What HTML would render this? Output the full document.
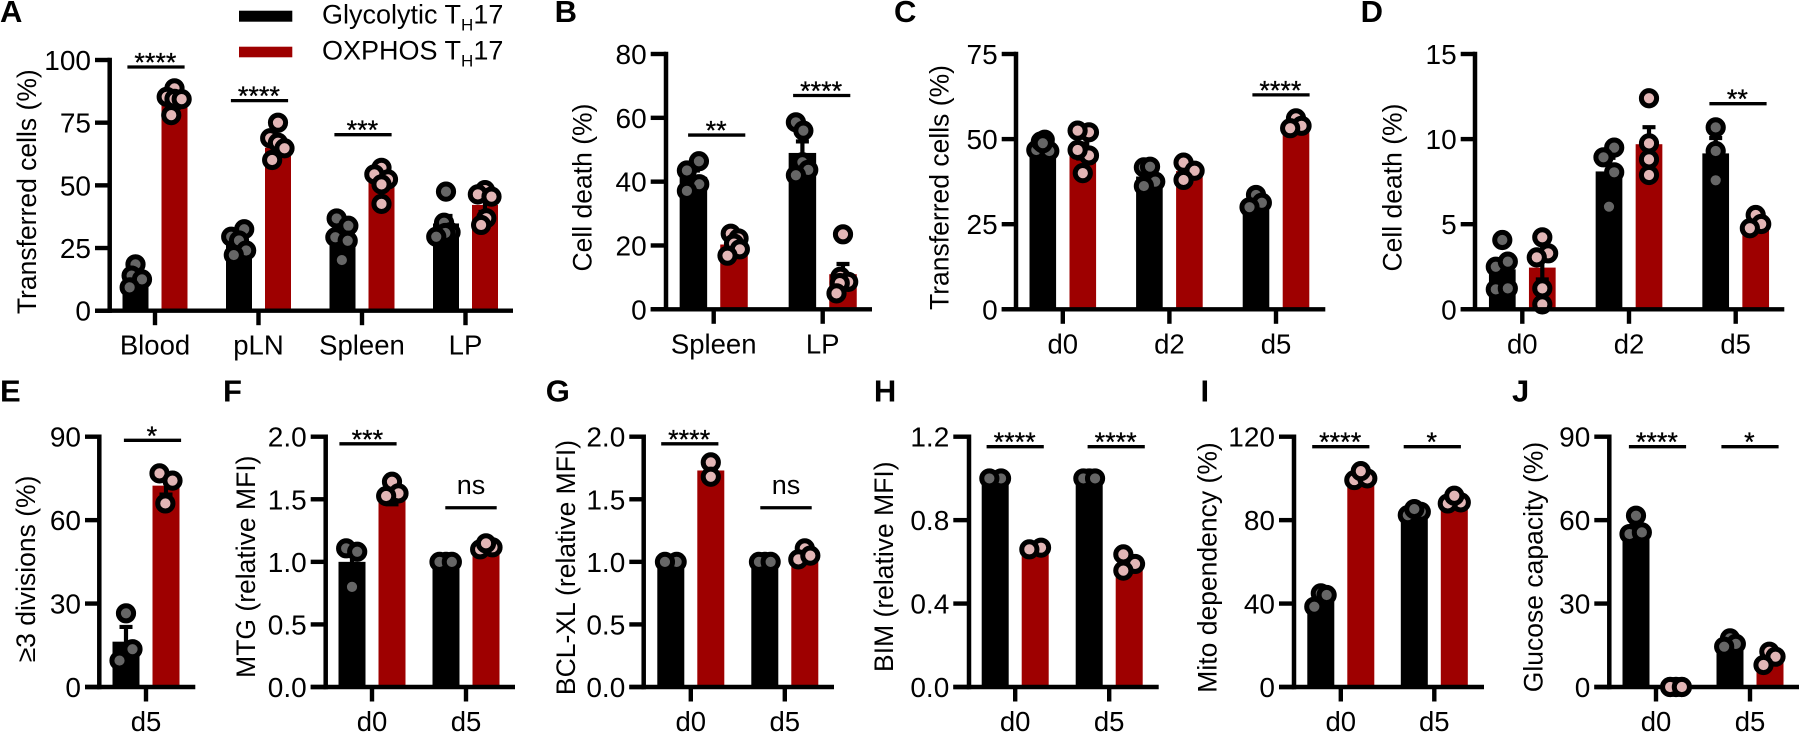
<!DOCTYPE html>
<html lang="en">
<head>
<meta charset="utf-8">
<title>Glycolytic vs OXPHOS TH17 bar charts</title>
<style>
html,body{margin:0;padding:0;background:#fff;width:1800px;height:732px;overflow:hidden}
svg{display:block}
text{font-family:"Liberation Sans",Arial,sans-serif;fill:#000}
.lab{font-size:27px}
.ytk{font-size:28px}
.xtk{font-size:27.5px}
.star{font-size:27px;stroke:#000;stroke-width:.3}
.ttl{font-size:26.5px}
.let{font-size:31px;font-weight:bold}
</style>
</head>
<body>
<svg id="figure" width="1800" height="732" viewBox="0 0 1800 732" xmlns="http://www.w3.org/2000/svg">
  <g>
    <rect x="239" y="10.7" width="53.3" height="11" fill="#000"/>
    <rect x="239" y="46.7" width="53.3" height="10.6" fill="#9e0000"/>
    <text class="lab" x="322" y="23.3">Glycolytic T<tspan font-size="17" dy="7">H</tspan><tspan dy="-7">17</tspan></text>
    <text class="lab" x="322" y="59.3">OXPHOS T<tspan font-size="17" dy="7">H</tspan><tspan dy="-7">17</tspan></text>
  </g>
  <g>
    <text class="let" x="0" y="22">A</text>
    <text class="let" x="554.6" y="22">B</text>
    <text class="let" x="894" y="22">C</text>
    <text class="let" x="1360.6" y="22">D</text>
    <text class="let" x="0" y="401.5">E</text>
    <text class="let" x="223" y="401.5">F</text>
    <text class="let" x="545.7" y="401.5">G</text>
    <text class="let" x="873.9" y="401.5">H</text>
    <text class="let" x="1200.5" y="401.5">I</text>
    <text class="let" x="1512" y="401.5">J</text>
  </g>
  <g text-anchor="middle">
    <text class="ttl" transform="translate(36 191.7) rotate(-90)">Transferred cells (%)</text>
    <text class="ttl" transform="translate(591.7 187.5) rotate(-90)">Cell death (%)</text>
    <text class="ttl" transform="translate(948.3 187.5) rotate(-90)">Transferred cells (%)</text>
    <text class="ttl" transform="translate(1401.7 187.5) rotate(-90)">Cell death (%)</text>
    <text class="ttl" transform="translate(35 569) rotate(-90)">≥3 divisions (%)</text>
    <text class="ttl" transform="translate(255 566.7) rotate(-90)">MTG (relative MFI)</text>
    <text class="ttl" transform="translate(575 567.5) rotate(-90)">BCL-XL (relative MFI)</text>
    <text class="ttl" transform="translate(893 566.7) rotate(-90)">BIM (relative MFI)</text>
    <text class="ttl" transform="translate(1216.7 567.5) rotate(-90)">Mito dependency (%)</text>
    <text class="ttl" transform="translate(1542.7 567) rotate(-90)">Glucose capacity (%)</text>
  </g>
</svg>
<script>
// ---------- Panel A ----------
const aCategories = ['Blood', 'pLN', 'Spleen', 'LP'];
const aTickLabels = ['0', '25', '50', '75', '100'];
const aGlyMeans = [13, 27, 30, 34.8];
const aGlySem = [2, 2.2, 2.9, 3];
const aOxMeans = [83, 65, 51.5, 42.2];
const aOxSem = [2, 2.6, 2.5, 2.8];
const aGlyPoints = [[18.5, 14, 12.5, 9.3], [32.5, 29.5, 28, 24, 22.2], [36.8, 33.9, 29.3, 27.9, 20.2], [47.5, 35.1, 31.3, 31, 29.5]];
const aGlyJitter = [[0, -0.6, 1, -0.9], [0.8, -1.2, 0, 1.1, -0.8], [-0.9, 0.9, -1.1, 0.8, -0.1], [0, -0.3, 0.7, -0.1, -1.5]];
const aOxPoints = [[88.7, 85.3, 84.5, 84.4, 78], [75, 68.8, 67, 64.8, 60.1], [57, 54.4, 52.4, 50.4, 42.6], [48.1, 46.4, 45.5, 36.9, 34.2]];
const aOxJitter = [[0, -1.2, 0, 1.1, -0.5], [0, -1.2, 0, 1, -0.9], [0, -1.1, 1, 0, 0], [0, -1.1, 1, 0.2, -0.6]];
const aSigLabels = ['****', '****', '***', ''];
const aSigLevels = [97.2, 83.8, 70.2, 0];

// ---------- Panel B ----------
const bCategories = ['Spleen', 'LP'];
const bTickLabels = ['0', '20', '40', '60', '80'];
const bGlyMeans = [41.5, 49];
const bGlySem = [2, 3.6];
const bOxMeans = [20.3, 11];
const bOxSem = [1.2, 3.2];
const bGlyPoints = [[46.4, 43.5, 39.2, 37.1], [58.6, 56, 46.1, 43.7, 42]];
const bGlyJitter = [[0.85, -1, 0.9, -1], [-1, 0.15, 0, 0.9, -1]];
const bOxPoints = [[23.7, 22.2, 20.6, 18.8, 16.8], [23.5, 10.2, 8.6, 8.2, 5]];
const bOxJitter = [[-0.5, 0.7, 0, 0.9, -1], [0, -0.4, 0.8, -0.5, -1]];
const bSigLabels = ['**', '****'];
const bSigLevels = [54.6, 67];

// ---------- Panel C ----------
const cCategories = ['d0', 'd2', 'd5'];
const cTickLabels = ['0', '25', '50', '75'];
const cGlyMeans = [48.2, 39, 31.3];
const cGlySem = [0.8, 1.3, 1];
const cOxMeans = [46.5, 40.6, 54];
const cOxSem = [2.2, 1.5, 0.9];
const cGlyPoints = [[46.8, 46.5, 49.8, 49.3, 48.8], [41.7, 41.9, 37.5, 36.2], [33.6, 31.3, 30]];
const cGlyJitter = [[-1, 1, 0.3, -0.3, 0], [-0.85, 0.1, 0.9, -0.85], [0, 0.9, -1]];
const cOxPoints = [[52, 52.5, 45.2, 46.8, 40], [43.1, 40.7, 38], [56.1, 53.9, 53.2]];
const cOxJitter = [[0.95, -0.8, 0.95, -0.8, 0], [-0.9, 0.8, -0.9], [0, 0.85, -0.9]];
const cSigLabels = ['', '', '****'];
const cSigLevels = [0, 0, 63];

// ---------- Panel D ----------
const dCategories = ['d0', 'd2', 'd5'];
const dTickLabels = ['0', '5', '10', '15'];
const dGlyMeans = [2.35, 8.1, 9.16];
const dGlySem = [0.55, 0.8, 0.9];
const dOxMeans = [2.45, 9.7, 5];
const dOxSem = [0.7, 1, 0.25];
const dGlyPoints = [[4.07, 2.5, 2.8, 1.17, 1.23], [9.5, 8.93, 8.05, 6.03], [10.69, 9.3, 7.58]];
const dGlyJitter = [[0, -1, 0.85, -1, 0.85], [0.8, -0.85, 0.8, 0], [0, 0, 0]];
const dOxPoints = [[4.23, 3.29, 3.05, 1.23, 0.29], [12.4, 9.75, 8.81, 7.89], [5.54, 5.01, 4.76]];
const dOxJitter = [[0, 0.9, -0.85, 0, 0], [0, 0, 0, 0], [0, 0.85, -0.9]];
const dSigLabels = ['', '', '**'];
const dSigLevels = [0, 0, 12.08];

// ---------- Panel E ----------
const eCategories = ['d5'];
const eTickLabels = ['0', '30', '60', '90'];
const eGlyMeans = [16.3];
const eGlySem = [5.3];
const eOxMeans = [72.4];
const eOxSem = [3.2];
const eGlyPoints = [[26.5, 13.6, 9.5]];
const eGlyJitter = [[0, 1, -1]];
const eOxPoints = [[76.8, 74.2, 66]];
const eOxJitter = [[-1, 1, -0.1]];
const eSigLabels = ['*'];
const eSigLevels = [88.7];

// ---------- Panel F ----------
const fCategories = ['d0', 'd5'];
const fTickLabels = ['0.0', '0.5', '1.0', '1.5', '2.0'];
const fGlyMeans = [1, 1];
const fGlySem = [0.09, 0];
const fOxMeans = [1.5, 1.1];
const fOxSem = [0.04, 0.015];
const fGlyPoints = [[1.108, 1.081, 0.8], [1, 1, 1]];
const fGlyJitter = [[-0.9, 0.8, 0], [0, -1, 0.9]];
const fOxPoints = [[1.64, 1.547, 1.526], [1.116, 1.1, 1.148]];
const fOxJitter = [[0, 1, -0.9], [1, -0.9, 0]];
const fSigLabels = ['***', 'ns'];
const fSigLevels = [1.943, 1.432];

// ---------- Panel G ----------
const gCategories = ['d0', 'd5'];
const gTickLabels = ['0.0', '0.5', '1.0', '1.5', '2.0'];
const gGlyMeans = [1, 1];
const gGlySem = [0, 0];
const gOxMeans = [1.73, 1.05];
const gOxSem = [0.05, 0.025];
const gGlyPoints = [[1, 1], [1, 1, 1]];
const gGlyJitter = [[0.9, -0.9], [0, -0.9, 0.9]];
const gOxPoints = [[1.795, 1.68], [1.108, 1.02, 1.05]];
const gOxJitter = [[0, 0], [0, -1, 0.85]];
const gSigLabels = ['****', 'ns'];
const gSigLevels = [1.943, 1.432];

// ---------- Panel H ----------
const hCategories = ['d0', 'd5'];
const hTickLabels = ['0.0', '0.4', '0.8', '1.2'];
const hGlyMeans = [1, 1];
const hGlySem = [0, 0];
const hOxMeans = [0.66, 0.59];
const hOxSem = [0.005, 0.025];
const hGlyPoints = [[1, 1], [1, 1, 1]];
const hGlyJitter = [[0.9, -0.9], [0, -0.9, 0.9]];
const hOxPoints = [[0.668, 0.66], [0.59, 0.636, 0.558]];
const hOxJitter = [[0.9, -0.9], [0.9, -0.9, -0.9]];
const hSigLabels = ['****', '****'];
const hSigLevels = [1.152, 1.152];

// ---------- Panel I ----------
const iCategories = ['d0', 'd5'];
const iTickLabels = ['0', '40', '80', '120'];
const iGlyMeans = [42, 84];
const iGlySem = [2, 1];
const iOxMeans = [100, 89];
const iOxSem = [1.3, 1.1];
const iGlyPoints = [[44.9, 44.1, 38.5], [84, 82.4, 85.3]];
const iGlyJitter = [[0, 0.9, -1], [1, -1, 0]];
const iOxPoints = [[99.2, 100, 103.5], [88.5, 88, 91.7]];
const iOxJitter = [[-1, 1, 0], [1, -1, 0]];
const iSigLabels = ['****', '*'];
const iSigLevels = [115.2, 115.2];

// ---------- Panel J ----------
const jCategories = ['d0', 'd5'];
const jTickLabels = ['0', '30', '60', '90'];
const jGlyMeans = [57, 15.7];
const jGlySem = [2.1, 0.9];
const jOxMeans = [0, 10.5];
const jOxSem = [0, 1.4];
const jGlyPoints = [[61.6, 55, 55.6], [17.5, 15.5, 14.5]];
const jGlyJitter = [[0, -1, 0.9], [0, 0.9, -0.9]];
const jOxPoints = [[0, 0, 0], [12.7, 10.9, 7.9]];
const jOxJitter = [[0, -0.9, 0.9], [-0.1, 0.85, -1]];
const jSigLabels = ['****', '*'];
const jSigLevels = [86.4, 86.4];

// ---------- Layout (geometry only, no data) ----------
const panels = [
  {id:'a', cats:aCategories, ticks:aTickLabels, gm:aGlyMeans, gs:aGlySem, om:aOxMeans, os:aOxSem, gp:aGlyPoints, gj:aGlyJitter, op:aOxPoints, oj:aOxJitter, sl:aSigLabels, sv:aSigLevels,
   axisX:109.7, top:60, zero:310.7, tickLeft:95, xEnd:513, first:155, step:103.5, off:19.5, bw:26, shift:[1,1,1,0]},
  {id:'b', cats:bCategories, ticks:bTickLabels, gm:bGlyMeans, gs:bGlySem, om:bOxMeans, os:bOxSem, gp:bGlyPoints, gj:bGlyJitter, op:bOxPoints, oj:bOxJitter, sl:bSigLabels, sv:bSigLevels,
   axisX:666, top:54, zero:309.3, tickLeft:650.7, xEnd:872, first:713.7, step:109, off:20.3, bw:27.5, shift:[3,-1]},
  {id:'c', cats:cCategories, ticks:cTickLabels, gm:cGlyMeans, gs:cGlySem, om:cOxMeans, os:cOxSem, gp:cGlyPoints, gj:cGlyJitter, op:cOxPoints, oj:cOxJitter, sl:cSigLabels, sv:cSigLevels,
   axisX:1016, top:54, zero:309.3, tickLeft:1001.7, xEnd:1325.3, first:1062.8, step:106.6, off:20, bw:26.6, shift:[0,0,5]},
  {id:'d', cats:dCategories, ticks:dTickLabels, gm:dGlyMeans, gs:dGlySem, om:dOxMeans, os:dOxSem, gp:dGlyPoints, gj:dGlyJitter, op:dOxPoints, oj:dOxJitter, sl:dSigLabels, sv:dSigLevels,
   axisX:1475, top:54, zero:309.3, tickLeft:1460.7, xEnd:1784.3, first:1522.3, step:106.7, off:20, bw:26.7, shift:[0,0,2.3]},
  {id:'e', cats:eCategories, ticks:eTickLabels, gm:eGlyMeans, gs:eGlySem, om:eOxMeans, os:eOxSem, gp:eGlyPoints, gj:eGlyJitter, op:eOxPoints, oj:eOxJitter, sl:eSigLabels, sv:eSigLevels,
   axisX:99.3, top:436.7, zero:687, tickLeft:85, xEnd:195.3, first:146, step:94, off:20, bw:27, shift:[6.5]},
  {id:'f', cats:fCategories, ticks:fTickLabels, gm:fGlyMeans, gs:fGlySem, om:fOxMeans, os:fOxSem, gp:fGlyPoints, gj:fGlyJitter, op:fOxPoints, oj:fOxJitter, sl:fSigLabels, sv:fSigLevels,
   axisX:325.7, top:436.7, zero:687, tickLeft:310.7, xEnd:515, first:372, step:94, off:20, bw:27, shift:[-4,5]},
  {id:'g', cats:gCategories, ticks:gTickLabels, gm:gGlyMeans, gs:gGlySem, om:gOxMeans, os:gOxSem, gp:gGlyPoints, gj:gGlyJitter, op:gOxPoints, oj:gOxJitter, sl:gSigLabels, sv:gSigLevels,
   axisX:643.7, top:436.7, zero:687, tickLeft:629.3, xEnd:834, first:690.8, step:94, off:20, bw:27, shift:[-1,1.2]},
  {id:'h', cats:hCategories, ticks:hTickLabels, gm:hGlyMeans, gs:hGlySem, om:hOxMeans, os:hOxSem, gp:hGlyPoints, gj:hGlyJitter, op:hOxPoints, oj:hOxJitter, sl:hSigLabels, sv:hSigLevels,
   axisX:969, top:436.7, zero:687, tickLeft:953.3, xEnd:1158.7, first:1015.2, step:94, off:20, bw:27, shift:[0,7]},
  {id:'i', cats:iCategories, ticks:iTickLabels, gm:iGlyMeans, gs:iGlySem, om:iOxMeans, os:iOxSem, gp:iGlyPoints, gj:iGlyJitter, op:iOxPoints, oj:iOxJitter, sl:iSigLabels, sv:iSigLevels,
   axisX:1294, top:436.7, zero:687, tickLeft:1279, xEnd:1484, first:1340.8, step:93.5, off:20, bw:27, shift:[0,-2]},
  {id:'j', cats:jCategories, ticks:jTickLabels, gm:jGlyMeans, gs:jGlySem, om:jOxMeans, os:jOxSem, gp:jGlyPoints, gj:jGlyJitter, op:jOxPoints, oj:jOxJitter, sl:jSigLabels, sv:jSigLevels,
   axisX:1609.3, top:436.7, zero:687, tickLeft:1594.3, xEnd:1799, first:1656, step:94, off:20, bw:27, shift:[1.5,0]}
];

const SVGNS = 'http://www.w3.org/2000/svg';
const figure = document.getElementById('figure');
const SLOT = 6.5;
const DOT_R = 7.6;
const DOT_SW = 5;
const GLY = {bar:'#000000', dot:'#666666'};
const OX = {bar:'#9e0000', dot:'#e2b6b6'};

function make(parent, tag, attrs, txt) {
  const el = document.createElementNS(SVGNS, tag);
  Object.keys(attrs).forEach(function (k) { el.setAttribute(k, attrs[k]); });
  if (txt !== undefined) el.textContent = txt;
  parent.appendChild(el);
  return el;
}

function drawSeries(g, p, yScale, cx, mean, sem, pts, jit, col, name) {
  const y0 = yScale(0);
  const yt = yScale(mean);
  const bar = make(g, 'rect', {x: cx - p.bw / 2, y: yt, width: p.bw, height: Math.max(0, y0 - yt), fill: col.bar});
  
  
  if (sem > 0) {
    const eb = make(g, 'path', {
      d: 'M' + cx + ' ' + yScale(mean - sem) + 'V' + yScale(mean + sem) +
         'M' + (cx - 6.5) + ' ' + yScale(mean + sem) + 'H' + (cx + 6.5) +
         'M' + (cx - 6.5) + ' ' + yScale(mean - sem) + 'H' + (cx + 6.5),
      stroke: '#000', 'stroke-width': 4.2, fill: 'none'});
    
    
  }
  pts.forEach(function (v, k) {
    const c = make(g, 'circle', {cx: cx + (jit[k] || 0) * SLOT, cy: yScale(v), r: DOT_R, fill: col.dot, stroke: '#000', 'stroke-width': DOT_SW});
    
    
  });
}

panels.forEach(function (p) {
  const g = make(figure, 'g', {});
  
  
  const maxV = Number(p.ticks[p.ticks.length - 1]);
  const yScale = function (v) { return p.zero - v * (p.zero - p.top) / maxV; };
  const xScale = function (i) { return p.first + i * p.step; };

  // marks
  p.cats.forEach(function (cat, i) {
    const c = xScale(i);
    drawSeries(g, p, yScale, c - p.off, p.gm[i], p.gs[i], p.gp[i], p.gj[i], GLY, 'glycolytic-' + cat.toLowerCase());
    drawSeries(g, p, yScale, c + p.off, p.om[i], p.os[i], p.op[i], p.oj[i], OX, 'oxphos-' + cat.toLowerCase());
  });

  // y axis
  const yLine = make(g, 'line', {x1: p.axisX, x2: p.axisX, y1: p.top - 2.2, y2: p.zero + 2.2, stroke: '#000', 'stroke-width': 4.5});
  
  
  p.ticks.forEach(function (lab) {
    const y = yScale(Number(lab));
    const t = make(g, 'line', {x1: p.tickLeft, x2: p.axisX, y1: y, y2: y, stroke: '#000', 'stroke-width': 4.4});
    
    
    const tl = make(g, 'text', {x: p.tickLeft - 4, y: y + 10, 'text-anchor': 'end', 'class': 'ytk'}, lab);
    
    
  });

  // x axis
  const xLine = make(g, 'line', {x1: p.tickLeft, x2: p.xEnd, y1: p.zero, y2: p.zero, stroke: '#000', 'stroke-width': 4.4});
  
  
  p.cats.forEach(function (cat, i) {
    const c = xScale(i);
    const t = make(g, 'line', {x1: c, x2: c, y1: p.zero, y2: p.zero + 14.5, stroke: '#000', 'stroke-width': 4.4});
    
    
    const tl = make(g, 'text', {x: c, y: p.zero + 44, 'text-anchor': 'middle', 'class': 'xtk'}, cat);
    
    
  });

  // J panel: the zero-value dots sit above the axis line
  if (p.id === 'j') {
    const c = xScale(0) + p.off;
    p.op[0].forEach(function (v, k) {
      const dot = make(g, 'circle', {cx: c + p.oj[0][k] * SLOT, cy: yScale(v), r: DOT_R, fill: OX.dot, stroke: '#000', 'stroke-width': DOT_SW});
      
      
    });
  }

  // significance annotations
  p.sl.forEach(function (lab, i) {
    if (!lab) return;
    const c = xScale(i) + p.shift[i];
    const y = yScale(p.sv[i]);
    const half = lab === 'ns' ? 25.7 : 28.6;
    const sb = make(g, 'line', {x1: c - half, x2: c + half, y1: y, y2: y, stroke: '#000', 'stroke-width': 3.3});
    
    
    const isNs = lab === 'ns';
    const st = make(g, 'text', {x: c - (isNs ? 0 : 0.6), y: isNs ? y - 14 : y + 4.5, 'text-anchor': 'middle', 'class': isNs ? 'lab' : 'star'}, lab);
    
    
  });
});
</script>
</body>
</html>
